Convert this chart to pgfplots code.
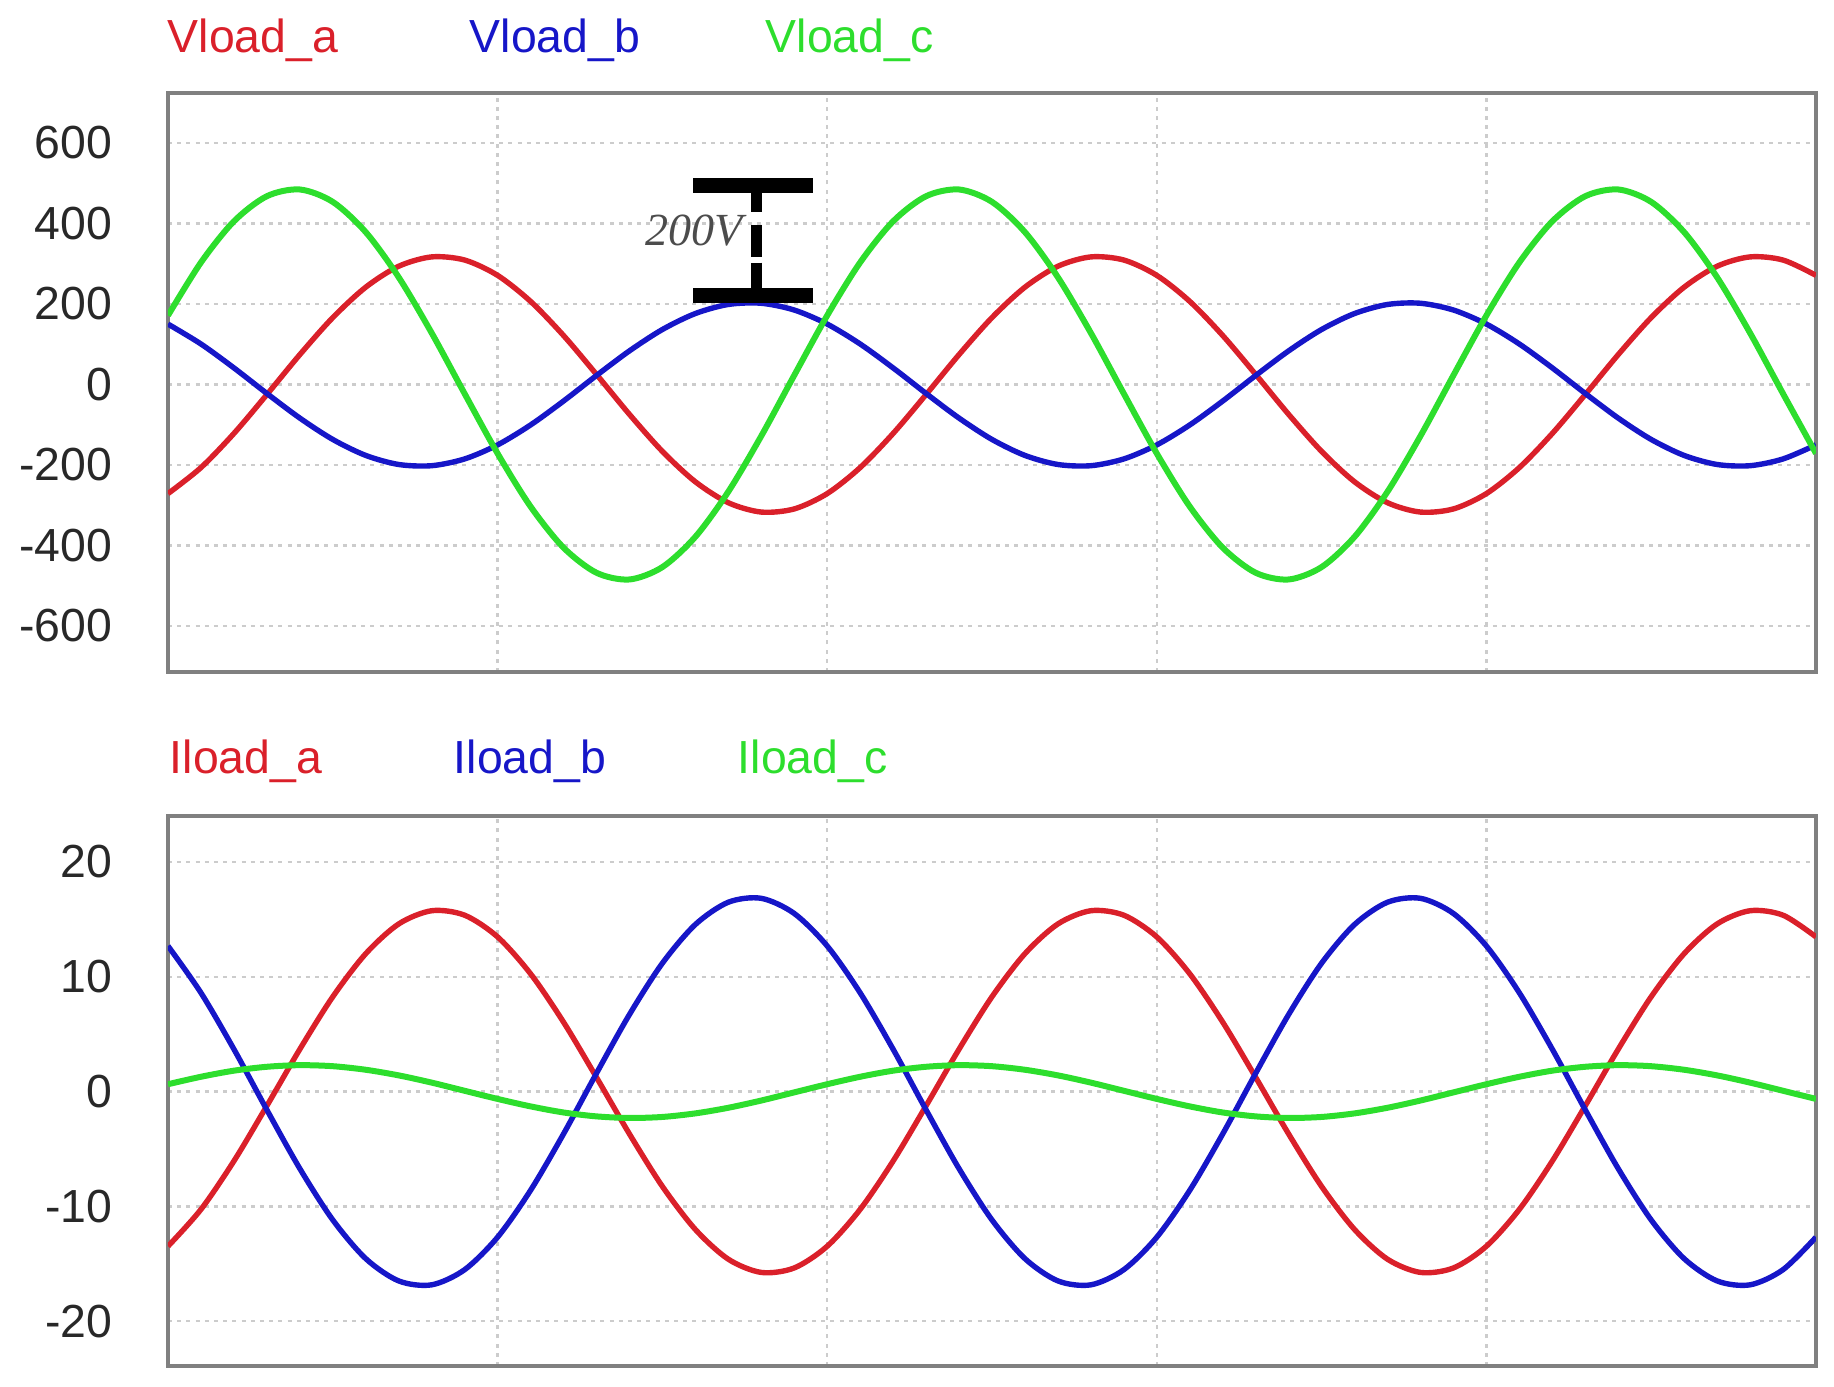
\documentclass[border=0pt]{standalone}
\usepackage{fontspec}
\setmainfont{Liberation Sans}
\newfontfamily\annfont{Liberation Serif}
\usepackage{pgfplots}
\usepackage{pgfplotstable}
\pgfplotsset{compat=1.18}

\definecolor{pha}{RGB}{218,32,42}
\definecolor{phb}{RGB}{22,22,200}
\definecolor{phc}{RGB}{45,222,45}
\definecolor{frame}{RGB}{128,128,128}
\definecolor{ticktxt}{RGB}{40,40,40}

% load voltages, t in ms
\pgfplotstableread{
t va vb vc
0 -271.1 150.1 171.4
1 -206.5 100.6 303.2
2 -121.7 41.2 405.4
3 -25.0 -22.3 467.8
4 74.2 -83.5 484.5
5 166.2 -136.6 453.7
6 241.8 -176.3 378.5
7 293.8 -198.8 266.3
8 317.0 -201.8 128.0
9 309.2 -185.0 -22.8
10 271.1 -150.1 -171.4
11 206.5 -100.6 -303.2
12 121.7 -41.2 -405.4
13 25.0 22.3 -467.8
14 -74.2 83.5 -484.5
15 -166.2 136.6 -453.7
16 -241.8 176.3 -378.5
17 -293.8 198.8 -266.3
18 -317.0 201.8 -128.0
19 -309.2 185.0 22.8
20 -271.1 150.1 171.4
21 -206.5 100.6 303.2
22 -121.7 41.2 405.4
23 -25.0 -22.3 467.8
24 74.2 -83.5 484.5
25 166.2 -136.6 453.7
26 241.8 -176.3 378.5
27 293.8 -198.8 266.3
28 317.0 -201.8 128.0
29 309.2 -185.0 -22.8
30 271.1 -150.1 -171.4
31 206.5 -100.6 -303.2
32 121.7 -41.2 -405.4
33 25.0 22.3 -467.8
34 -74.2 83.5 -484.5
35 -166.2 136.6 -453.7
36 -241.8 176.3 -378.5
37 -293.8 198.8 -266.3
38 -317.0 201.8 -128.0
39 -309.2 185.0 22.8
40 -271.1 150.1 171.4
41 -206.5 100.6 303.2
42 -121.7 41.2 405.4
43 -25.0 -22.3 467.8
44 74.2 -83.5 484.5
45 166.2 -136.6 453.7
46 241.8 -176.3 378.5
47 293.8 -198.8 266.3
48 317.0 -201.8 128.0
49 309.2 -185.0 -22.8
50 271.1 -150.1 -171.4
}\vload

% load currents, t in ms
\pgfplotstableread{
t ia ib ic
0 -13.47 12.68 0.64
1 -10.26 8.60 1.29
2 -6.05 3.69 1.82
3 -1.24 -1.59 2.16
4 3.69 -6.71 2.30
5 8.26 -11.18 2.21
6 12.01 -14.55 1.90
7 14.60 -16.49 1.41
8 15.75 -16.83 0.78
9 15.36 -15.51 0.07
10 13.47 -12.68 -0.64
11 10.26 -8.60 -1.29
12 6.05 -3.69 -1.82
13 1.24 1.59 -2.16
14 -3.69 6.71 -2.30
15 -8.26 11.18 -2.21
16 -12.01 14.55 -1.90
17 -14.60 16.49 -1.41
18 -15.75 16.83 -0.78
19 -15.36 15.51 -0.07
20 -13.47 12.68 0.64
21 -10.26 8.60 1.29
22 -6.05 3.69 1.82
23 -1.24 -1.59 2.16
24 3.69 -6.71 2.30
25 8.26 -11.18 2.21
26 12.01 -14.55 1.90
27 14.60 -16.49 1.41
28 15.75 -16.83 0.78
29 15.36 -15.51 0.07
30 13.47 -12.68 -0.64
31 10.26 -8.60 -1.29
32 6.05 -3.69 -1.82
33 1.24 1.59 -2.16
34 -3.69 6.71 -2.30
35 -8.26 11.18 -2.21
36 -12.01 14.55 -1.90
37 -14.60 16.49 -1.41
38 -15.75 16.83 -0.78
39 -15.36 15.51 -0.07
40 -13.47 12.68 0.64
41 -10.26 8.60 1.29
42 -6.05 3.69 1.82
43 -1.24 -1.59 2.16
44 3.69 -6.71 2.30
45 8.26 -11.18 2.21
46 12.01 -14.55 1.90
47 14.60 -16.49 1.41
48 15.75 -16.83 0.78
49 15.36 -15.51 0.07
50 13.47 -12.68 -0.64
}\iload

\pgfplotsset{
  scope/.style={
    scale only axis, anchor=south west,
    width=412pt,
    xmin=0, xmax=50,
    xtick={10,20,30,40}, xticklabels={},
    major tick length=0pt,
    grid=major,
    major grid style={gray!40, line width=0.6pt, dash pattern=on 1pt off 1.3pt},
    axis line style={frame, line width=1.2pt},
    tick label style={font=\fontsize{11.6}{13}\selectfont, text=ticktxt},
    yticklabel style={anchor=east, inner sep=0pt, xshift=-13.75pt},
  },
  wave/.style={line width=1.35pt, smooth, no marks},
}

\begin{document}
\begin{tikzpicture}
\path[use as bounding box] (0,0) rectangle (458.5pt,346.5pt);

\begin{axis}[scope, at={(42pt,178.5pt)}, height=144.75pt,
  ymin=-714.4, ymax=724.3,
  ytick={-600,-400,-200,0,200,400,600},
  yticklabels={-600,-400,-200,0,200,400,600}]
\addplot[wave, pha] table[x=t, y=va] {\vload};
\addplot[wave, phb] table[x=t, y=vb] {\vload};
\addplot[wave, phc, line width=1.5pt] table[x=t, y=vc] {\vload};
% 200 V scale marker
\draw[black, line width=3.75pt] (axis cs:15.93,495.1) -- (axis cs:19.57,495.1);
\draw[black, line width=3.75pt] (axis cs:15.93,221.6) -- (axis cs:19.57,221.6);
\draw[black, line width=2.75pt] (axis cs:17.85,495) -- (axis cs:17.85,429.3);
\draw[black, line width=2.75pt] (axis cs:17.85,397.0) -- (axis cs:17.85,317.4);
\draw[black, line width=2.75pt] (axis cs:17.85,302.5) -- (axis cs:17.85,222);
\node[anchor=east, inner sep=0pt, text=black!70,
  font=\annfont\itshape\fontsize{11.5}{13}\selectfont]
  at (axis cs:17.45,382) {200V};
\end{axis}

\begin{axis}[scope, at={(42pt,5pt)}, height=137.5pt,
  ymin=-23.9, ymax=24,
  ytick={-20,-10,0,10,20},
  yticklabels={-20,-10,0,10,20}]
\addplot[wave, pha] table[x=t, y=ia] {\iload};
\addplot[wave, phb] table[x=t, y=ib] {\iload};
\addplot[wave, phc, line width=1.5pt] table[x=t, y=ic] {\iload};
\end{axis}

\begin{scope}[every node/.style={anchor=base west, inner sep=0pt,
    font=\fontsize{11.6}{13}\selectfont}]
\node[text=pha] at (41.75pt,333.5pt) {Vload\_a};
\node[text=phb] at (117.25pt,333.5pt) {Vload\_b};
\node[text=phc] at (191.25pt,333.5pt) {Vload\_c};
\node[text=pha] at (42.25pt,153.25pt) {Iload\_a};
\node[text=phb] at (113.25pt,153.25pt) {Iload\_b};
\node[text=phc] at (184.25pt,153.25pt) {Iload\_c};
\end{scope}
\end{tikzpicture}
\end{document}
